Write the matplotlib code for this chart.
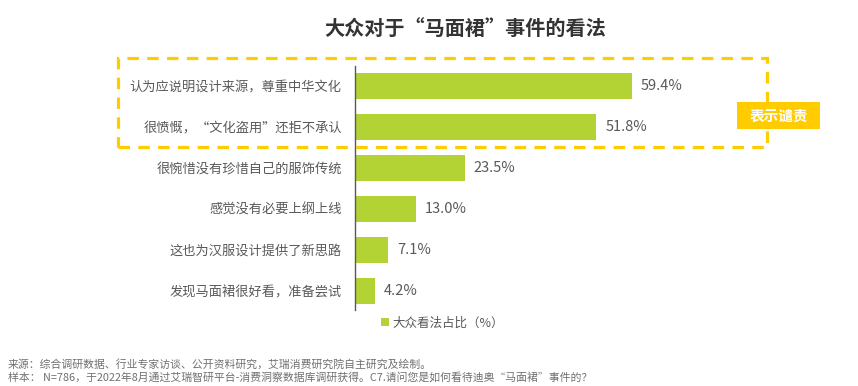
import matplotlib
matplotlib.use("Agg")
import matplotlib.pyplot as plt
from matplotlib.patches import Rectangle

plt.rcParams['font.family'] = ['Noto Sans CJK SC', 'DejaVu Sans']

# data
categories = ['认为应说明设计来源，尊重中华文化',
              '很愤慨，“文化盗用”还拒不承认',
              '很惋惜没有珍惜自己的服饰传统',
              '感觉没有必要上纲上线',
              '这也为汉服设计提供了新思路',
              '发现马面裙很好看，准备尝试']
values = [59.4, 51.8, 23.5, 13.0, 7.1, 4.2]
series_name = '大众看法占比（%）'
title = '大众对于“马面裙”事件的看法'
tag_text = '表示谴责'
notes = ['来源：综合调研数据、行业专家访谈、公开资料研究，艾瑞消费研究院自主研究及绘制。',
         '样本： N=786，于2022年8月通过艾瑞智研平台-消费洞察数据库调研获得。C7.请问您是如何看待迪奥“马面裙”事件的？']

W, H = 858, 386
bar_color = '#B3D334'
gold = '#FFCC00'
grey = '#595959'


def fx(px):
    return px / W


def fy(py):
    return 1 - py / H


fig = plt.figure(figsize=(W / 100, H / 100), dpi=100)

# axes from x=355..855 px, y=66..310 px
ax = fig.add_axes([fx(355), fy(310), fx(500), (310 - 66) / H])
ypos = list(range(len(categories)))
ax.barh(ypos, values, height=0.62, color=bar_color, label=series_name)
ax.set_xlim(0, 500 / 4.66)
ax.set_ylim(5.463, -0.488)

for y, v in zip(ypos, values):
    ax.text(v + 2.0, y, '{:.1f}%'.format(v), va='center', ha='left',
            fontsize=10.5, color=grey)

ax.set_yticks(ypos)
ax.set_yticklabels(categories, fontsize=9.5, color=grey)
ax.tick_params(axis='y', length=0, pad=9.5)
ax.set_xticks([])
for s in ['top', 'right', 'bottom']:
    ax.spines[s].set_visible(False)
ax.spines['left'].set_color(grey)
ax.spines['left'].set_linewidth(1.0)

ax.legend(loc='center left', bbox_to_anchor=(fx(381), fy(323)),
          bbox_transform=fig.transFigure, frameon=False, fontsize=9,
          handlelength=0.6, handleheight=0.6, handletextpad=0.3,
          labelcolor=grey, borderpad=0, borderaxespad=0)

# dashed highlight box
box = Rectangle((fx(118), fy(147)), fx(767 - 118), (147 - 58) / H,
                transform=fig.transFigure, fill=False, edgecolor=gold,
                linewidth=2.3, linestyle=(0, (3.6, 2.6)), zorder=5)
fig.patches.append(box)

tag = Rectangle((fx(737), fy(129)), fx(820 - 737), (129 - 102) / H,
                transform=fig.transFigure, facecolor=gold, edgecolor='none',
                zorder=6)
fig.patches.append(tag)
fig.text(fx(778.5), fy(115.5), tag_text, ha='center', va='center',
         fontsize=10.5, color='white', fontweight='bold', zorder=7)

fig.text(fx(465), fy(28), title, ha='center', va='center', fontsize=14.5,
         fontweight='bold', color='#333333')

fig.text(fx(8), fy(364), notes[0], ha='left', va='center', fontsize=7.8,
         color='#707070')
fig.text(fx(8), fy(377), notes[1], ha='left', va='center', fontsize=7.8,
         color='#707070')

fig.savefig('out.png', dpi=100)
